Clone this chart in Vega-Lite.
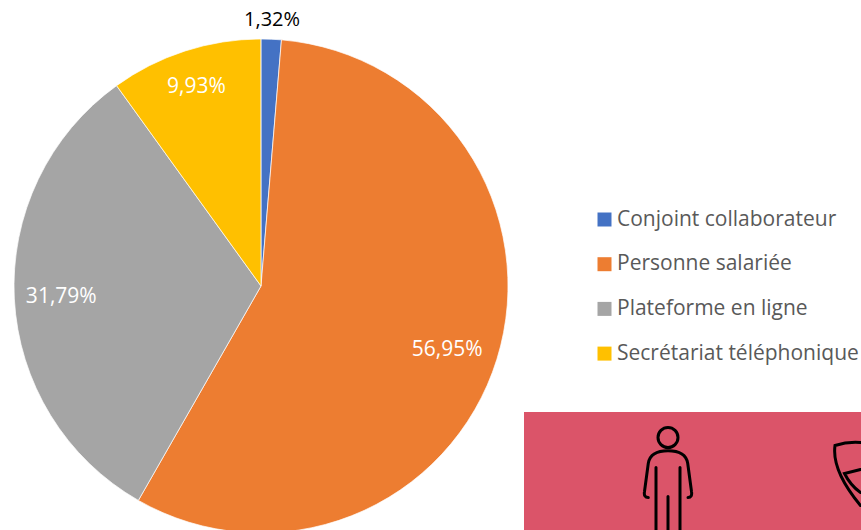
{"$schema":"https://vega.github.io/schema/vega-lite/v6.json","padding":{"left":-5,"top":10,"right":0,"bottom":0},"background":"white","bounds":"flush","spacing":2,"config":{"view":{"stroke":null}},"hconcat":[{"width":522,"height":494,"data":{"values":[{"k":"Conjoint collaborateur","v":1.32,"order":1,"l":"1,32%"},{"k":"Personne salariée","v":56.95,"order":2,"l":"56,95%"},{"k":"Plateforme en ligne","v":31.79,"order":3,"l":"31,79%"},{"k":"Secrétariat téléphonique","v":9.93,"order":4,"l":"9,93%"}]},"encoding":{"theta":{"field":"v","type":"quantitative","stack":true,"scale":{"domain":[0,100],"range":[0,6.28319]}},"order":{"field":"order"}},"layer":[{"mark":{"type":"arc","outerRadius":247,"stroke":"#ffffff","strokeWidth":0.7},"encoding":{"color":{"field":"k","type":"nominal","scale":{"domain":["Conjoint collaborateur","Personne salariée","Plateforme en ligne","Secrétariat téléphonique"],"range":["#4472C4","#ED7D31","#A5A5A5","#FFC000"]},"legend":{"orient":"none","legendX":594,"legendY":170,"title":null,"symbolType":"square","symbolSize":196,"symbolStrokeWidth":0,"labelFont":"Open Sans","labelFontSize":21,"labelColor":"#595959","rowPadding":22.7,"labelLimit":300,"labelOffset":2}}}},{"mark":{"type":"text","radius":266,"font":"Open Sans","fontSize":20,"color":"#000000"},"encoding":{"text":{"condition":{"test":"datum.order==1","field":"l"},"value":""}}},{"mark":{"type":"text","radius":197,"font":"Open Sans","fontSize":21,"color":"#ffffff","dx":-2,"dy":6},"encoding":{"text":{"condition":{"test":"datum.order==2","field":"l"},"value":""}}},{"mark":{"type":"text","radius":200,"font":"Open Sans","fontSize":21,"color":"#ffffff","dy":1},"encoding":{"text":{"condition":{"test":"datum.order==3","field":"l"},"value":""}}},{"mark":{"type":"text","radius":210,"font":"Open Sans","fontSize":21,"color":"#ffffff","dy":1},"encoding":{"text":{"condition":{"test":"datum.order==4","field":"l"},"value":""}}}]},{"spacing":0,"bounds":"flush","vconcat":[{"width":337,"height":373,"data":{"values":[]},"mark":{"type":"rect"}},{"width":337,"height":121,"view":{"fill":"#DB5469","stroke":null},"data":{"values":[{"panel":"icônes"}]},"mark":{"type":"point","filled":false,"stroke":"#000000","strokeWidth":3,"strokeCap":"round","opacity":1,"size":40000,"clip":true,"shape":"M-0.345 -0.35a0.1 0.1 0 1 0 0.2 0a0.1 0.1 0 1 0 -0.2 0M-0.442 0.25Q-0.49 0.25 -0.48 0.19L-0.442 -0.093Q-0.42 -0.217 -0.245 -0.217Q-0.07 -0.217 -0.048 -0.093L-0.01 0.19Q0 0.25 -0.045 0.25M-0.365 -0.05L-0.365 0.6M-0.125 -0.05L-0.125 0.6M-0.245 0.24L-0.245 0.6M1.68 -0.3Q1.55 -0.31 1.425 -0.27Q1.39 -0.02 1.68 0.33M1.68 -0.03L1.52 0.01Q1.58 0.13 1.68 0.2"}}]}]}
